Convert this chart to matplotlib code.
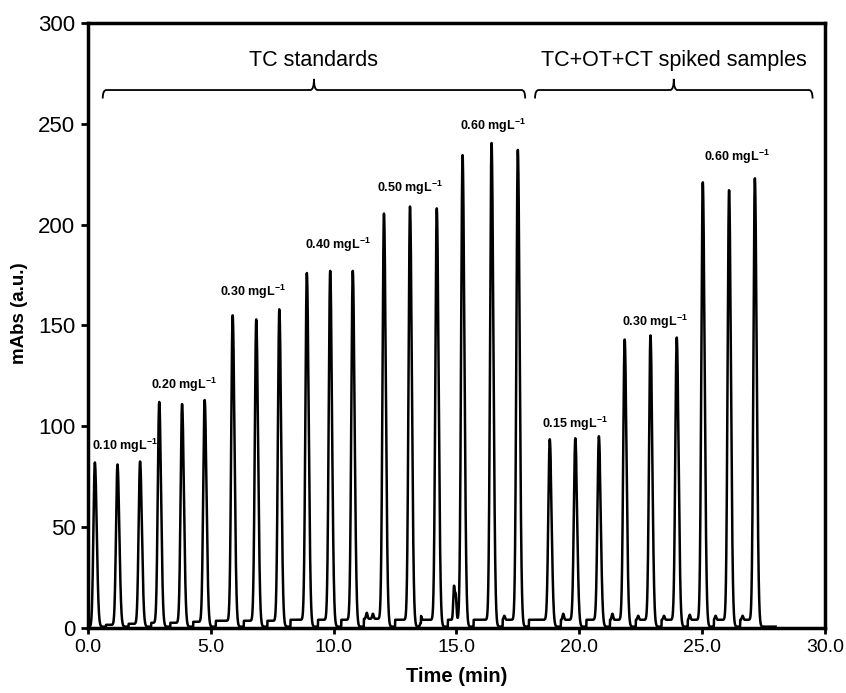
import matplotlib
matplotlib.use('Agg')
import matplotlib.pyplot as plt
import numpy as np
from matplotlib.path import Path
from matplotlib.patches import PathPatch

plt.rcParams['font.family'] = ['Liberation Sans', 'DejaVu Sans']
plt.rcParams['mathtext.fontset'] = 'custom'
plt.rcParams['mathtext.rm'] = 'Liberation Sans'
plt.rcParams['mathtext.bf'] = 'Liberation Sans:bold'
plt.rcParams['mathtext.default'] = 'bf'

# peak apex times (min) and heights (mAbs)
peak_times = [0.28, 1.2, 2.12, 2.9, 3.83, 4.75, 5.89, 6.85, 7.79,
              8.91, 9.86, 10.78, 12.05, 13.11, 14.2, 15.25, 16.43, 17.5,
              18.8, 19.84, 20.8, 21.85, 22.9, 23.97, 25.03, 26.1, 27.15]
peak_heights = [82, 81, 82.5, 112, 111, 113, 155, 153, 158,
                176, 177, 177, 205.5, 209, 208, 234.5, 240.5, 237,
                93.5, 94, 95, 143, 145, 144, 221, 217, 223]
# baseline shelf level before each peak
shelf_levels = [0.5, 1.5, 2.0, 2.5, 2.5, 3.0, 3.5, 3.5, 3.5,
                4.0, 4.0, 4.0, 4.5, 4.0, 4.0, 4.0, 4.0, 4.0,
                4.0, 4.0, 4.0, 4.0, 4.0, 4.0, 4.0, 4.0, 4.0]
# small baseline bumps / spikes (time, height)
bump_times = [11.35, 11.6, 13.55, 14.9, 14.97, 16.95, 19.35, 21.35, 22.4, 23.45, 24.5, 25.55, 26.65]
bump_heights = [3.0, 2.5, 2.0, 16.0, 12.0, 2.0, 3.0, 3.0, 2.0, 2.0, 2.5, 2.0, 2.0]
trace_end = 28.0

label_texts = ['0.10', '0.20', '0.30', '0.40', '0.50', '0.60', '0.15', '0.30', '0.60']
label_x = [0.16, 2.55, 5.37, 8.83, 11.78, 15.14, 18.5, 21.73, 25.1]
label_y = [90, 120.5, 166.5, 190, 218, 249, 101, 151.5, 233.5]

group_names = ['TC standards', 'TC+OT+CT spiked samples']
group_start = [0.6, 18.2]
group_end = [17.8, 29.5]

# build the trace
t = np.arange(0, trace_end, 0.004)
y = np.full_like(t, 0.6)
prev = -1.0
for pt, s in zip(peak_times, shelf_levels):
    shelf = (t > prev + 0.45) & (t < pt + 0.04)
    y[shelf] = s
    prev = pt
for pt, h, s in zip(peak_times, peak_heights, shelf_levels):
    dt = t - pt
    sig = np.where(dt < 0, 0.058, 0.075)
    y += (h - s) * np.exp(-0.5 * (dt / sig) ** 2)
for bt, bh in zip(bump_times, bump_heights):
    y += bh * np.exp(-0.5 * ((t - bt) / 0.03) ** 2)

fig = plt.figure(figsize=(8.46, 6.93), dpi=100)
ax = fig.add_axes([0.104, 0.094, 0.871, 0.873])
ax.plot(t, y, color='black', lw=1.8, solid_joinstyle='round')

for txt, lx, ly in zip(label_texts, label_x, label_y):
    ax.text(lx, ly, txt + ' mgL$^{-1}$', fontsize=9, fontweight='bold',
            ha='left', va='center')


def brace(ax, x0, x1, yb, h=4.2, tip=5.5):
    xm = (x0 + x1) / 2
    r = 0.15
    verts = [(x0, yb - h), (x0, yb), (x0 + r, yb),
             (xm - r, yb), (xm, yb), (xm, yb + tip),
             (xm, yb), (xm + r, yb), (x1 - r, yb),
             (x1, yb), (x1, yb - h)]
    codes = [Path.MOVETO, Path.CURVE3, Path.CURVE3,
             Path.LINETO, Path.CURVE3, Path.CURVE3,
             Path.CURVE3, Path.CURVE3, Path.LINETO,
             Path.CURVE3, Path.CURVE3]
    ax.add_patch(PathPatch(Path(verts, codes), fill=False, lw=1.3, ec='black'))


for name, x0, x1 in zip(group_names, group_start, group_end):
    brace(ax, x0, x1, 266.7)
    ax.text((x0 + x1) / 2, 281.5, name, fontsize=15.5, ha='center', va='center')

ax.set_xlim(0, 30)
ax.set_ylim(0, 300)
ax.set_xticks(np.arange(0, 31, 5))
ax.set_xticklabels(['%.1f' % v for v in np.arange(0, 31, 5)], fontsize=14)
ax.set_yticks(np.arange(0, 301, 50))
ax.tick_params(axis='y', labelsize=16, length=5, width=2, direction='out', pad=4)
ax.tick_params(axis='x', length=4, width=2, direction='out', pad=4)
for sp in ax.spines.values():
    sp.set_linewidth(2.5)
ax.set_xlabel('Time (min)', fontsize=14.5, fontweight='bold', labelpad=8)
ax.set_ylabel('mAbs (a.u.)', fontsize=13.5, fontweight='bold')
ax.yaxis.set_label_coords(-0.082, 0.52)

fig.savefig('out.png', dpi=100)
